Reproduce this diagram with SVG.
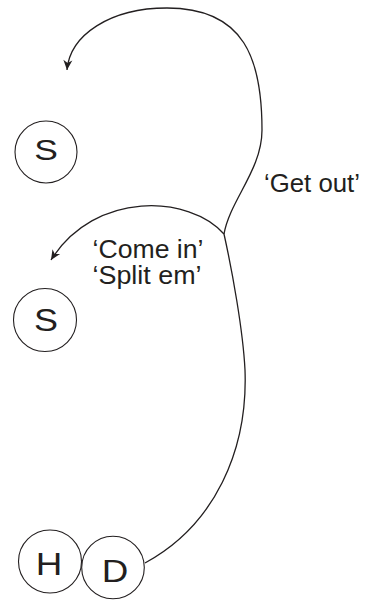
<svg xmlns="http://www.w3.org/2000/svg" width="372" height="600" viewBox="0 0 372 600">
<style>
.node circle{fill:none;stroke:#231f20;stroke-width:1.1}
.node text{font-family:"Liberation Sans",Arial,sans-serif;fill:#231f20;text-anchor:middle}
.lbl{font-family:"Liberation Sans",Arial,sans-serif;fill:#231f20;font-size:25px}
.conn{fill:none;stroke:#231f20;stroke-width:1.3}
</style>
<defs>
<marker id="ah" markerUnits="userSpaceOnUse" viewBox="-11 -6 12 12" refX="0" refY="0" markerWidth="12" markerHeight="12" orient="auto">
<path d="M0,0 L-10,-4.5 L-7,0 L-10,4.5 z" fill="#231f20"/>
</marker>
</defs>
<rect width="372" height="600" fill="#ffffff"/>
<g id="connectors">
<path class="conn" d="M145,563 C215,525 248,450 245,370 C243,330 232,270 224,234 C190,195 95,190 51,260" marker-end="url(#ah)"/>
<path class="conn" d="M224,234 C230,200 262,170 262,130 C262,60 245,8 167,8 C110,8 70,35 67,70" marker-end="url(#ah)"/>
</g>
<g id="node-s1" class="node">
<circle cx="46" cy="152" r="31"/>
<text transform="translate(46,159.5) scale(1.18,1)" font-size="30">S</text>
</g>
<g id="node-s2" class="node">
<circle cx="45" cy="320" r="31.5"/>
<text transform="translate(46,331) scale(1.18,1)" font-size="30.5">S</text>
</g>
<g id="node-h" class="node">
<circle cx="50" cy="561.5" r="31.5"/>
<text transform="translate(49,575) scale(1.15,1)" font-size="32">H</text>
</g>
<g id="node-d" class="node">
<circle cx="113" cy="567.5" r="31.3"/>
<text transform="translate(115,582) scale(1.15,1)" font-size="32">D</text>
</g>
<g id="labels">
<text class="lbl" x="264" y="191.5" textLength="96" lengthAdjust="spacingAndGlyphs">‘Get out’</text>
<text class="lbl" x="92.5" y="258.3" textLength="111" lengthAdjust="spacingAndGlyphs">‘Come in’</text>
<text class="lbl" x="92.5" y="284.3" textLength="109" lengthAdjust="spacingAndGlyphs">‘Split em’</text>
</g>
</svg>
